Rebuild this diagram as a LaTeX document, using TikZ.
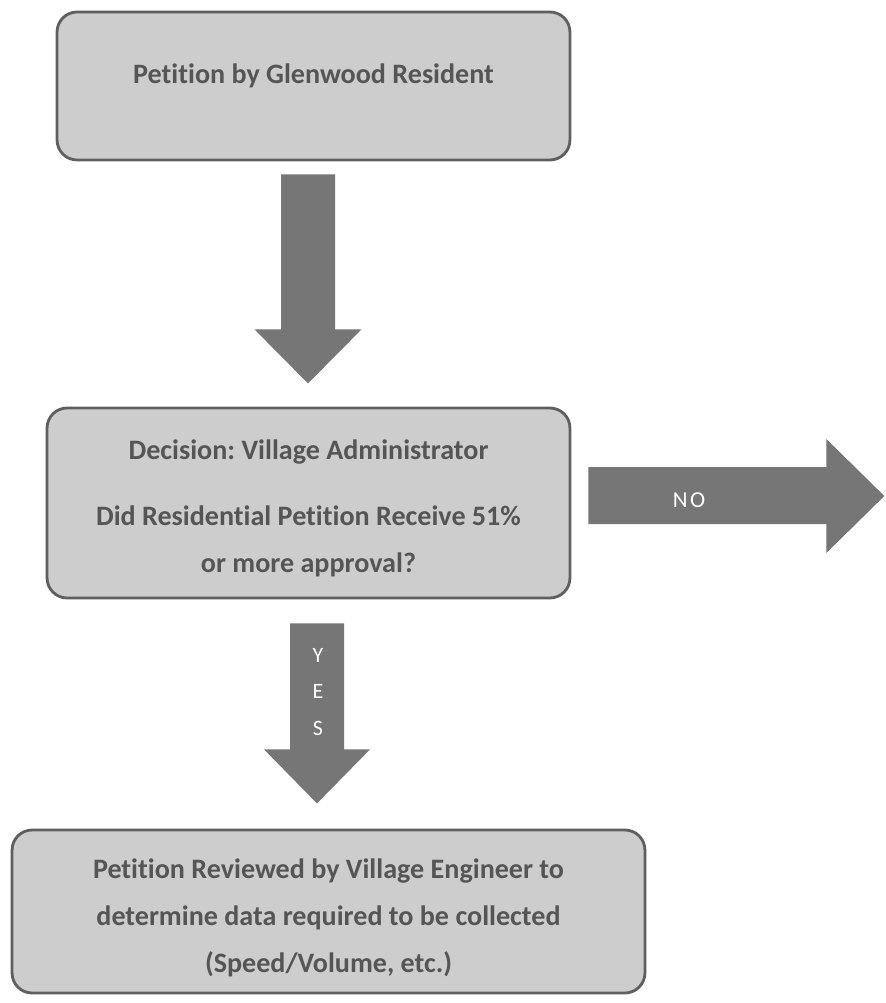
\documentclass[tikz,border=0pt]{standalone}
\usepackage{fontspec}
\setmainfont{Carlito}[Ligatures=NoCommon]
\usepackage{tikz}
\usetikzlibrary{calc,positioning}
\definecolor{boxfill}{RGB}{205,205,205}
\definecolor{boxline}{RGB}{95,95,95}
\definecolor{arrowgray}{RGB}{118,118,118}
\definecolor{textgray}{RGB}{85,85,85}
\frenchspacing

\begin{document}
\begin{tikzpicture}[x=0.02cm,y=-0.02cm,
    box/.style={draw=boxline,line width=1.6pt,fill=boxfill,rounded corners=0.4cm,
      inner sep=0pt,align=center,text=textgray,
      font=\bfseries\fontsize{16}{26.7}\selectfont},
    bigarrow/.style={fill=arrowgray},
    arrowtxt/.style={text=white,inner sep=0pt,font=\fontsize{13}{21}\selectfont}]
  \fill[white] (0,0) rectangle (885,1003);
  \node[box,minimum width=10.26cm,minimum height=2.96cm,text depth=0.5cm] (petition) at (313.5,86)
    {Petition by Glenwood Resident};
  \node[box,minimum width=10.46cm,minimum height=3.8cm] (decision) at (308.5,503)
    {\rule{0pt}{0.6cm}Decision: Village Administrator\\[0.38cm]
     Did Residential Petition Receive 51\%\\
     or more approval?};
  \node[box,minimum width=12.66cm,minimum height=3.26cm] (review) at (328.5,911.5)
    {\rule{0pt}{0.64cm}Petition Reviewed by Village Engineer to\\
     determine data required to be collected\\
     (Speed/Volume, etc.)};
  \path (petition.south) ++(-5.5,13) coordinate (down1);
  \path (decision.east) ++(17,-36) coordinate (nostart);
  \path (decision.south) ++(8.5,24) coordinate (yesstart);
  \fill[bigarrow] (down1) ++(-27,0) -- ++(54,0) -- ++(0,155) -- ++(26.5,0)
    -- ++(-53.5,54) -- ++(-53.5,-54) -- ++(26.5,0) -- cycle;
  \fill[bigarrow] (nostart) -- ++(238,0) -- ++(0,-28) -- ++(58,57)
    -- ++(-58,57) -- ++(0,-29) -- ++(-238,0) -- cycle;
  \fill[bigarrow] (yesstart) ++(-27,0) -- ++(54,0) -- ++(0,126) -- ++(26,0)
    -- ++(-53,54) -- ++(-53,-54) -- ++(26,0) -- cycle;
  \node[arrowtxt] (no) at (689,500) {N\kern1.5pt O};
  \node[arrowtxt,align=center,font=\fontsize{12.5}{21}\selectfont] (yes) at (318,692) {Y\\E\\S};
\end{tikzpicture}
\end{document}
